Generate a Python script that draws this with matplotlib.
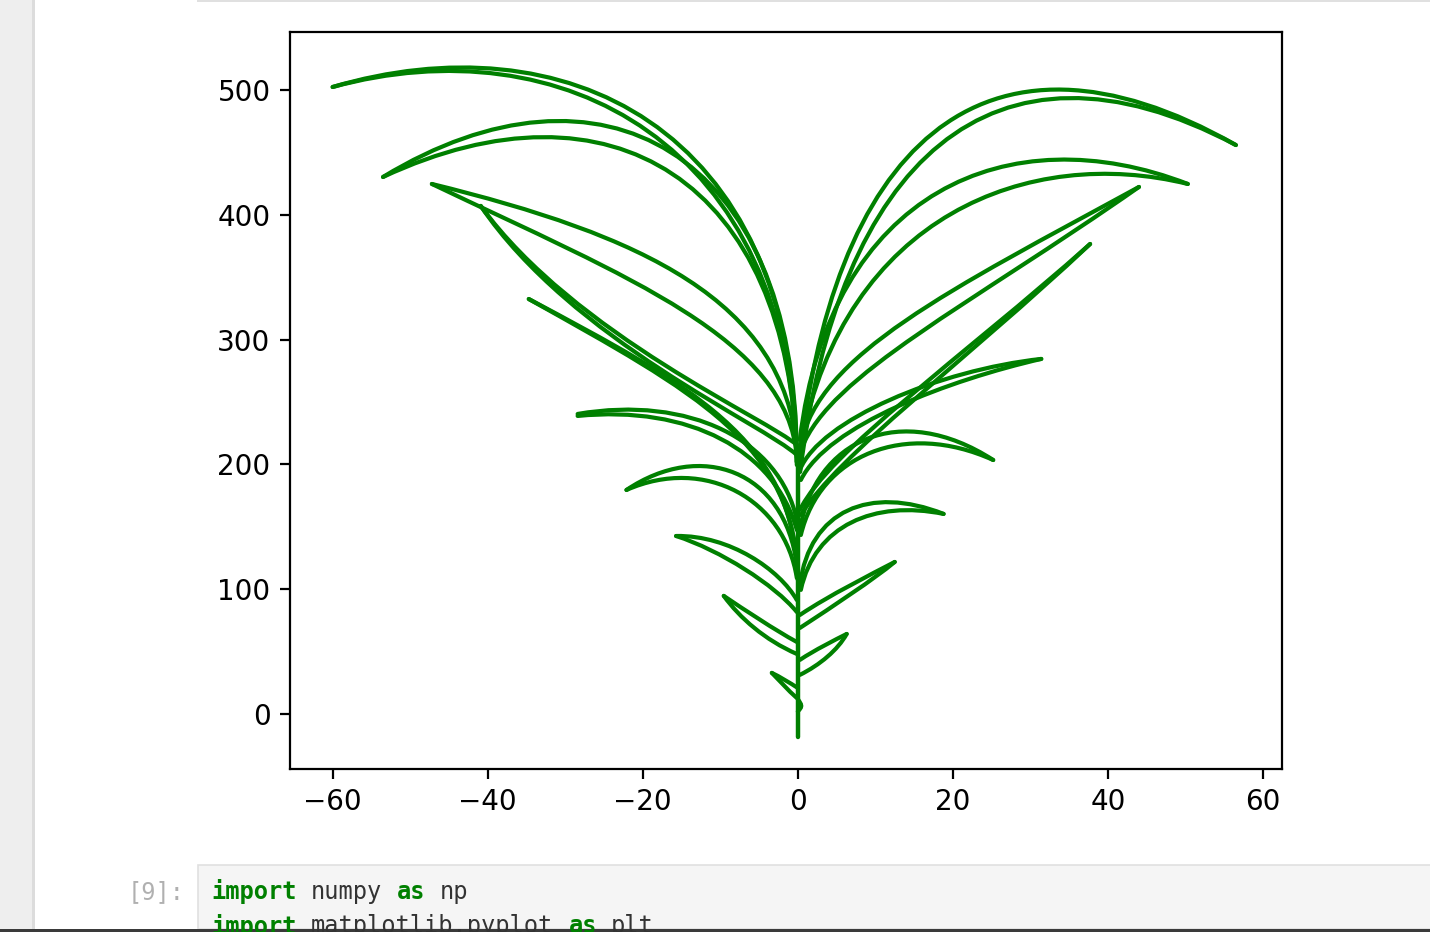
import matplotlib.pyplot as plt
from matplotlib.path import Path
from matplotlib.patches import PathPatch, Rectangle

# stem (x, y)
stem_x = [0.0, 0.0]
stem_y = [-18.4, 215.0]

# each leaf edge is a cubic bezier: base on stem, two control points, tip
right_leaves = [
    [[(0.1, 195.5), (4.1, 451.9), (23.5, 572.1), (56.5, 455.9)],
     [(0.3, 193.9), (5.2, 439.9), (24.8, 560.1), (56.5, 455.9)]],
    [[(0.26, 219.6), (4.13, 419.9), (27.3, 480.0), (50.3, 424.7)],
     [(0.39, 215.6), (6.06, 399.8), (29.9, 455.9), (50.3, 424.7)]],
    [[(0.39, 215.5), (2.58, 287.7), (19.6, 339.7), (44.0, 422.3)],
     [(0.52, 213.1), (4.13, 271.6), (22.2, 327.5), (44.0, 422.3)]],
    [[(0.26, 163.5), (4.13, 211.5), (20.9, 283.7), (37.7, 376.6)],
     [(0.39, 159.5), (5.16, 207.5), (21.5, 282.1), (37.7, 376.6)]],
    [[(0.26, 195.5), (2.84, 235.6), (18.3, 275.6), (31.4, 284.5)],
     [(0.39, 187.5), (3.87, 231.6), (19.6, 267.6), (31.4, 284.5)]],
    [[(0.26, 147.4), (2.19, 219.6), (13.2, 251.6), (25.2, 203.5)],
     [(0.39, 143.4), (2.84, 207.5), (13.8, 235.6), (25.2, 203.5)]],
    [[(0.26, 103.4), (1.55, 163.5), (9.3, 183.5), (18.8, 160.3)],
     [(0.39, 99.4), (2.19, 151.4), (9.9, 171.5), (18.8, 160.3)]],
    [[(0.26, 79.3), (4.13, 95.4), (9.3, 111.4), (12.5, 121.8)],
     [(0.26, 68.9), (4.77, 87.3), (9.7, 107.4), (12.5, 121.8)]],
    [[(0.26, 43.3), (2.19, 51.3), (4.77, 59.3), (6.3, 64.1)],
     [(0.26, 31.3), (2.84, 39.3), (5.16, 51.3), (6.3, 64.1)]],
    [[(0.0, 12.0), (0.3, 9.0), (0.5, 7.5), (0.4, 6.4)],
     [(0.0, 2.0), (0.3, 4.0), (0.5, 5.5), (0.4, 6.4)]],
]

left_leaves = [
    [[(-0.13, 201.9), (-0.39, 475.2), (-30.7, 556.1), (-60.0, 502.4)],
     [(-0.13, 199.5), (-0.77, 459.1), (-30.7, 552.1), (-60.0, 502.4)]],
    [[(-0.13, 207.5), (-0.39, 451.9), (-25.5, 536.1), (-53.5, 430.3)],
     [(-0.13, 201.9), (-1.03, 427.9), (-24.2, 515.2), (-53.5, 430.3)]],
    [[(-0.13, 211.5), (-1.68, 331.7), (-20.4, 383.8), (-47.2, 424.7)],
     [(-0.13, 205.5), (-1.2, 300.0), (-22.0, 350.0), (-47.2, 424.7)]],
    [[(-0.13, 215.5), (-3.61, 235.6), (-28.8, 303.7), (-40.9, 407.1)],
     [(-0.13, 207.5), (-4.26, 231.6), (-29.2, 299.7), (-40.9, 407.1)]],
    [[(-0.13, 111.4), (-0.39, 219.6), (-13.9, 263.6), (-34.7, 332.5)],
     [(0.0, 107.4), (-0.13, 215.5), (-13.3, 258.0), (-34.7, 332.5)]],
    [[(-0.13, 155.4), (-2.32, 219.6), (-14.0, 255.6), (-28.4, 240.4)],
     [(-0.13, 147.4), (-2.97, 211.5), (-14.0, 247.6), (-28.4, 238.8)]],
    [[(-0.13, 119.4), (-1.68, 195.5), (-12.5, 219.6), (-22.1, 179.5)],
     [(-0.13, 109.0), (-1.68, 171.5), (-11.9, 207.5), (-22.1, 179.5)]],
    [[(-0.13, 91.3), (-2.32, 115.4), (-8.77, 143.4), (-15.7, 142.6)],
     [(-0.13, 81.7), (-2.97, 103.4), (-10.06, 131.4), (-15.7, 142.6)]],
    [[(-0.13, 57.7), (-2.97, 67.3), (-6.84, 83.3), (-9.55, 94.6)],
     [(-0.13, 48.1), (-4.26, 59.3), (-7.48, 76.9), (-9.55, 94.6)]],
    [[(0.0, 20.8), (-1.03, 25.0), (-2.32, 29.8), (-3.35, 32.9)],
     [(-0.13, 12.8), (-1.29, 19.2), (-2.45, 27.2), (-3.35, 32.9)]],
]

leaf_color = "green"

fig = plt.figure(figsize=(7.15, 4.66), dpi=200)

# notebook page around the output
fig.patches.append(Rectangle((0, 0), 0.023, 1, transform=fig.transFigure,
                             facecolor="#eeeeee", edgecolor="none"))
fig.patches.append(Rectangle((0.0225, 0), 0.002, 1, transform=fig.transFigure,
                             facecolor="#dcdcdc", edgecolor="none"))
fig.patches.append(Rectangle((0.138, 0.998), 0.9, 0.004, transform=fig.transFigure,
                             facecolor="#e0e0e0", edgecolor="none"))
fig.patches.append(Rectangle((0.1385, 0.003), 0.9, 0.069, transform=fig.transFigure,
                             facecolor="#f5f5f5", edgecolor="#e0e0e0", lw=0.6))
fig.patches.append(Rectangle((0, 0), 1, 0.003, transform=fig.transFigure,
                             facecolor="#3a3a3a", edgecolor="none"))
fig.text(0.129, 0.043, "[9]:", family="DejaVu Sans Mono", fontsize=8.5,
         color="#b0b0b0", ha="right", va="center")
mono = dict(family="DejaVu Sans Mono", fontsize=8.5, va="center")
fig.text(0.1475, 0.043, "import", color="#008000", weight="bold", **mono)
fig.text(0.2175, 0.043, "numpy", color="#333333", **mono)
fig.text(0.2777, 0.043, "as", color="#008000", weight="bold", **mono)
fig.text(0.3077, 0.043, "np", color="#333333", **mono)
fig.text(0.1475, 0.006, "import", color="#008000", weight="bold", **mono)
fig.text(0.2175, 0.006, "matplotlib.pyplot", color="#333333", **mono)
fig.text(0.3976, 0.006, "as", color="#008000", weight="bold", **mono)
fig.text(0.4274, 0.006, "plt", color="#333333", **mono)

ax = fig.add_axes([0.2028, 0.1749, 0.6937, 0.7908])

ax.plot(stem_x, stem_y, color=leaf_color, lw=1.6, solid_capstyle="round")

codes = [Path.MOVETO, Path.CURVE4, Path.CURVE4, Path.CURVE4]
for leaf in right_leaves + left_leaves:
    for edge in leaf:
        patch = PathPatch(Path(edge, codes), facecolor="none",
                          edgecolor=leaf_color, lw=1.5, capstyle="round")
        ax.add_patch(patch)

ax.set_xlim(-65.5, 62.45)
ax.set_ylim(-44.1, 546.5)
ax.set_xticks([-60, -40, -20, 0, 20, 40, 60])
ax.set_yticks([0, 100, 200, 300, 400, 500])

fig.savefig("out.png", dpi=200)
